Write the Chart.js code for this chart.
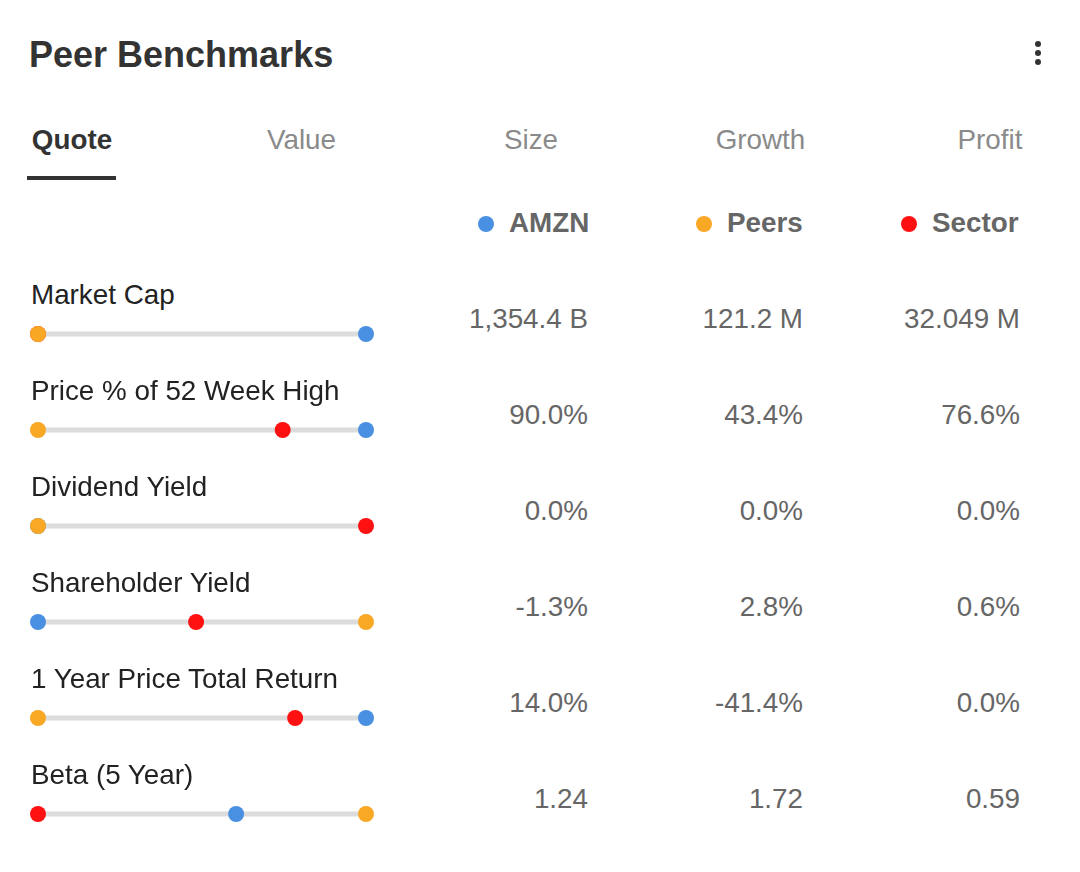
<!DOCTYPE html>
<html>
<head>
<meta charset="utf-8">
<script src="https://cdn.jsdelivr.net/npm/chart.js@4.4.0/dist/chart.umd.min.js"></script>
<style>
  body { margin: 0; background: #fff; font-family: "Liberation Sans", Arial, sans-serif; }
  #page { position: relative; width: 1080px; height: 872px; overflow: hidden; }
  .t { position: absolute; white-space: nowrap; font-size: 27.8px; line-height: 28px; }
  #title { left: 29px; top: 36.5px; font-size: 36px; line-height: 36px; font-weight: bold; color: #333; }
  .tab { width: 200px; text-align: center; color: #8a8a8a; }
  .tab.active { color: #333; font-weight: bold; }
  #underline { position: absolute; left: 27px; top: 176px; width: 89px; height: 4px; background: #333; }
  .menu { position: absolute; left: 1035px; width: 6px; height: 6px; border-radius: 3px; background: #333; }
  .leg { color: #666; font-weight: bold; }
  .legdot { position: absolute; width: 16px; height: 16px; border-radius: 8px; }
  .lbl { color: #222; }
  .val { width: 200px; text-align: right; color: #666; }
  #sliders { position: absolute; left: 30px; top: 310px; }
</style>
</head>
<body>
<div id="page">
  <div id="title" class="t">Peer Benchmarks</div>
  <div class="menu" style="top:41px"></div>
  <div class="menu" style="top:50px"></div>
  <div class="menu" style="top:59px"></div>
  <div id="underline"></div>
  <canvas id="sliders" width="344" height="528"></canvas>
</div>
<script>
// pestañas y columnas
const tabs = ['Quote', 'Value', 'Size', 'Growth', 'Profit'];
const seriesNames = ['AMZN', 'Peers', 'Sector'];
const seriesColors = ['#4A90E2', '#F9A825', '#FF1111'];

// filas de la tabla
const metrics = ['Market Cap', 'Price % of 52 Week High', 'Dividend Yield', 'Shareholder Yield', '1 Year Price Total Return', 'Beta (5 Year)'];
const amznValues = ['1,354.4 B', '90.0%', '0.0%', '-1.3%', '14.0%', '1.24'];
const peersValues = ['121.2 M', '43.4%', '0.0%', '2.8%', '-41.4%', '1.72'];
const sectorValues = ['32.049 M', '76.6%', '0.0%', '0.6%', '0.0%', '0.59'];

// posicion de cada punto en la barra (0 = izquierda, 100 = derecha)
const amznPos = [100, 100, 0, 0, 100, 60.4];
const peersPos = [0, 0, 0, 100, 0, 100];
const sectorPos = [0, 74.6, 100, 48.2, 78.4, 0];

const page = document.getElementById('page');
function addText(cls, text, style) {
    const d = document.createElement('div');
    d.className = 't ' + cls;
    d.textContent = text;
    Object.assign(d.style, style);
    page.appendChild(d);
}

// pestañas
tabs.forEach((tab, i) => {
    addText(i === 0 ? 'tab active' : 'tab', tab, { left: (72 + 229.5 * i - 100) + 'px', top: '125.5px' });
});

// leyenda
const colRight = [588, 803, 1020];
const legDotX = [486, 704, 909];
seriesNames.forEach((name, i) => {
    const dot = document.createElement('div');
    dot.className = 'legdot';
    dot.style.left = (legDotX[i] - 8) + 'px';
    dot.style.top = '216px';
    dot.style.background = seriesColors[i];
    page.appendChild(dot);
    addText('leg', name, { left: (legDotX[i] + 23) + 'px', top: '208.5px' });
});

// etiquetas y valores
const columns = [amznValues, peersValues, sectorValues];
metrics.forEach((m, r) => {
    addText('lbl', m, { left: '31px', top: (280.5 + 96 * r) + 'px' });
    columns.forEach((col, c) => {
        addText('val', col[r], { left: (colRight[c] - 200) + 'px', top: (304.5 + 96 * r) + 'px' });
    });
});

// barras grises de fondo (order alto = se dibujan atras)
const tracks = metrics.map((m, r) => ({
    type: 'line',
    data: [{ x: 0, y: r }, { x: 100, y: r }],
    borderColor: '#dcdcdc',
    borderWidth: 5,
    borderCapStyle: 'round',
    pointRadius: 0,
    clip: false,
    order: 10,
}));

function dots(pos, color, order) {
    return {
        type: 'scatter',
        data: pos.map((p, r) => ({ x: p, y: r })),
        backgroundColor: color,
        borderWidth: 0,
        pointRadius: 8,
        pointHoverRadius: 8,
        clip: false,
        order: order,
    };
}

new Chart(document.getElementById('sliders').getContext('2d'), {
    data: {
        datasets: [
            ...tracks,
            dots(amznPos, seriesColors[0], 3),
            dots(sectorPos, seriesColors[2], 2),
            dots(peersPos, seriesColors[1], 1),
        ]
    },
    options: {
        responsive: false,
        animation: false,
        events: [],
        layout: { padding: { left: 8, right: 8, top: 24, bottom: 24 } },
        plugins: { legend: { display: false }, tooltip: { enabled: false } },
        scales: {
            x: { type: 'linear', min: 0, max: 100, display: false },
            y: { type: 'linear', min: 0, max: metrics.length - 1, reverse: true, display: false },
        },
    },
});
</script>
</body>
</html>
